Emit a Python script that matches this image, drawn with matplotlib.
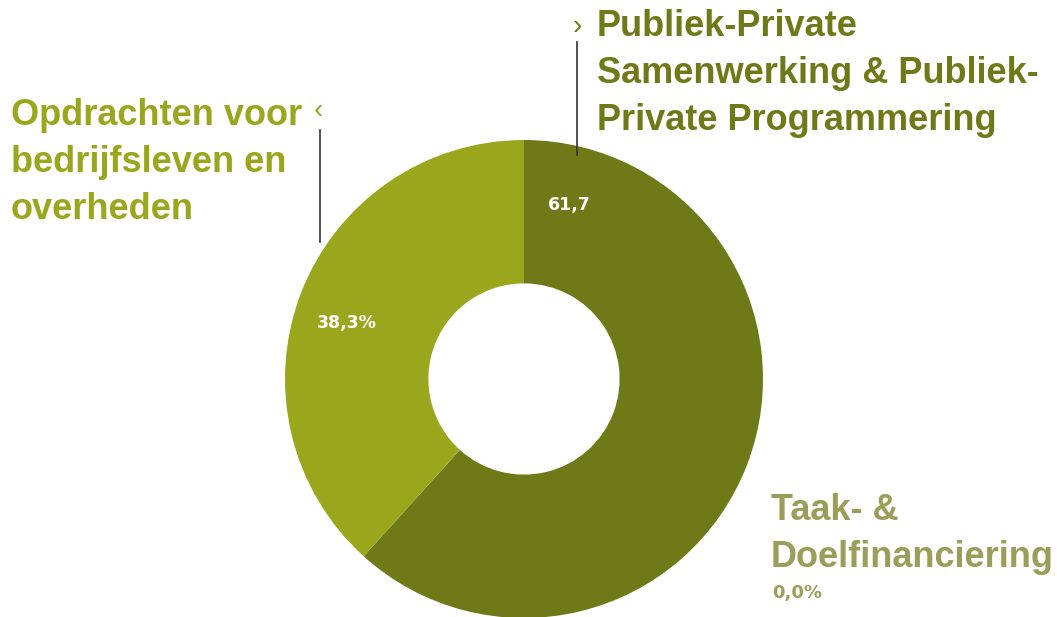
import matplotlib
matplotlib.use("Agg")
import matplotlib.pyplot as plt

categories = ["Publiek-Private\nSamenwerking & Publiek-\nPrivate Programmering",
              "Opdrachten voor\nbedrijfsleven en\noverheden",
              "Taak- &\nDoelfinanciering"]
values = [61.7, 38.3, 0.0]
value_labels = ["61,7", "38,3%", "0,0%"]
colors = ["#6e7a18", "#9aa61c", "#9a9e58"]

W, H = 1057, 617
fig = plt.figure(figsize=(W / 100, H / 100), dpi=100)
ax = fig.add_axes([0, 0, 1, 1])

cx, cy, R = 524, H - 379, 239
ax.pie(values[:2], colors=colors[:2], startangle=90, counterclock=False,
       center=(cx, cy), radius=R, wedgeprops=dict(width=R * 0.6, linewidth=0),
       frame=True)
ax.set_xlim(0, W)
ax.set_ylim(0, H)
ax.axis("off")

font = "Liberation Sans"
numfont = "DejaVu Sans"
big = 26
ls = 1.44

def ty(y):
    return H - y

# category labels
fig.text(597 / W, 1 - 9 / H, categories[0], ha="left", va="top", fontsize=big,
         fontweight="bold", color=colors[0], family=font, linespacing=ls)
fig.text(11 / W, 1 - 98 / H, categories[1], ha="left", va="top", fontsize=big,
         fontweight="bold", color=colors[1], family=font, linespacing=ls)
fig.text(771 / W, 1 - 493 / H, categories[2], ha="left", va="top", fontsize=big,
         fontweight="bold", color=colors[2], family=font, linespacing=ls)
fig.text(772 / W, 1 - 584 / H, value_labels[2], ha="left", va="top", fontsize=13,
         fontweight="bold", color=colors[2], family=numfont)

# markers and leader lines
ax.text(577, ty(27), "›", ha="center", va="center", fontsize=20,
        color=colors[0], family=font)
ax.text(318, ty(111), "‹", ha="center", va="center", fontsize=20,
        color=colors[1], family=font)
ax.plot([577, 577], [ty(42), ty(155)], color="#333333", lw=1.2)
ax.plot([320, 320], [ty(130), ty(242)], color="#333333", lw=1.2)

# value labels
ax.text(569, ty(205), value_labels[0], ha="center", va="center", fontsize=12.5,
        fontweight="bold", color="white", family=numfont)
ax.text(347, ty(323), value_labels[1], ha="center", va="center", fontsize=12.5,
        fontweight="bold", color="white", family=numfont)

fig.savefig("out.png", dpi=100, facecolor="white")
